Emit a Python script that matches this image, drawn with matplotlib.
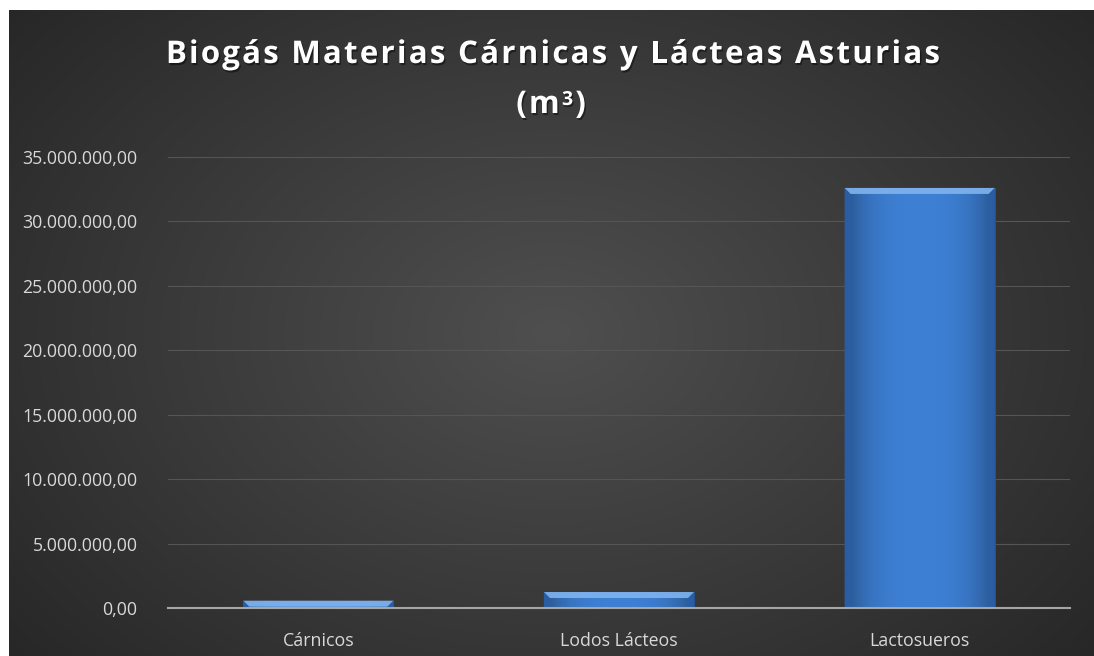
import numpy as np
import matplotlib
matplotlib.use("Agg")
import matplotlib.pyplot as plt
import matplotlib.patheffects as pe
from matplotlib.ticker import FuncFormatter, MultipleLocator

categories = ["Cárnicos", "Lodos Lácteos", "Lactosueros"]
biogas_m3 = [570000.0, 1240000.0, 32600000.0]
title_line1 = "Biogás Materias Cárnicas y Lácteas Asturias"
title_line2 = [("(m", 1.0, 0), ("3", 0.62, 8), (")", 1.0, 0)]

W, H, DPI = 1094, 656, 100
fig = plt.figure(figsize=(W / DPI, H / DPI), dpi=DPI)
fig.patch.set_facecolor("white")

# Dark radial-gradient chart area
bg_left, bg_top = 9 / W, 10 / H
bg = fig.add_axes([bg_left, 0, 1 - bg_left, 1 - bg_top], zorder=0)
yy, xx = np.mgrid[0:1:400j, 0:1:600j]
r = np.sqrt(((xx - 0.5) / 0.75) ** 2 + ((yy - 0.5) / 0.9) ** 2)
shade = np.clip(0.31 - 0.18 * r, 0.13, 0.31)
bg.imshow(np.dstack([shade] * 3), aspect="auto", extent=[0, 1, 0, 1],
          interpolation="bicubic")
bg.set_axis_off()

ax = fig.add_axes([168 / W, 48 / H, 902 / W, 451 / H], zorder=1)
ax.patch.set_alpha(0)

x = np.arange(len(categories))
bars = ax.bar(x, biogas_m3, width=0.5, color="#3b7dd0", zorder=3)

ax.set_xlim(-0.5, len(categories) - 0.5)
ax.set_ylim(0, 35000000)
ax.yaxis.set_major_locator(MultipleLocator(5000000))


def es_fmt(v, _pos):
    s = f"{v:,.2f}"
    return s.replace(",", "X").replace(".", ",").replace("X", ".")


ax.yaxis.set_major_formatter(FuncFormatter(es_fmt))
ax.set_xticks(x)
ax.set_xticklabels(categories)

# Bevel shading on each bar
grad = np.linspace(0, 1, 200)
hprof = 1 - 0.35 * np.abs(grad - 0.5) ** 3 * 8
px_to_data = 35000000 / 451
for b in bars:
    x0, y0 = b.get_x(), b.get_y()
    w, h = b.get_width(), b.get_height()
    base = np.array([0.24, 0.50, 0.83])
    img = np.stack([base[None, :] * hprof[:, None]] * 2)
    im = ax.imshow(img, extent=[x0, x0 + w, y0, y0 + h], aspect="auto",
                   zorder=4, interpolation="bilinear")
    im.set_clip_path(b)
    bev = 6 * px_to_data
    dx = w * 6 / 151
    top = plt.Polygon([[x0, y0 + h], [x0 + w, y0 + h],
                       [x0 + w - dx, y0 + h - bev], [x0 + dx, y0 + h - bev]],
                      closed=True, facecolor="#80b4ee", edgecolor="none",
                      alpha=0.9, zorder=5)
    ax.add_patch(top)
    for xs in ([x0, x0 + dx], [x0 + w, x0 + w - dx]):
        side = plt.Polygon([[xs[0], y0 + h], [xs[1], y0 + h - bev],
                            [xs[1], y0], [xs[0], y0]], closed=True,
                           facecolor="#2a5fa8", edgecolor="none", alpha=0.8,
                           zorder=5)
        ax.add_patch(side)

ax.set_xlim(-0.5, len(categories) - 0.5)
ax.set_ylim(0, 35000000)

ax.yaxis.grid(True, color="#555555", linewidth=0.8, zorder=1)
ax.set_axisbelow(True)
for s in ["top", "right", "left"]:
    ax.spines[s].set_visible(False)
ax.spines["bottom"].set_color("#a6a6a6")
ax.spines["bottom"].set_linewidth(1.5)
ax.spines["bottom"].set_zorder(6)
ax.tick_params(axis="both", length=0, colors="#d9d9d9", labelsize=12.8)
ax.tick_params(axis="y", pad=22)
ax.tick_params(axis="x", pad=17)
for lab in ax.get_xticklabels() + ax.get_yticklabels():
    lab.set_fontfamily("Open Sans")

# Letter-spaced title, drawn character by character
fig.canvas.draw()
renderer = fig.canvas.get_renderer()
TITLE_SIZE = 22.5
shadow = [pe.withSimplePatchShadow(offset=(1, -1.5), shadow_rgbFace="black",
                                   alpha=0.45)]


def title_kw(scale):
    return dict(color="white", fontsize=TITLE_SIZE * scale, fontweight="bold",
                family="Open Sans", va="baseline", ha="left",
                path_effects=shadow)


def char_width(ch, scale):
    if ch == " ":
        t = fig.text(0, 0, "a a", **title_kw(scale))
        t2 = fig.text(0, 0, "aa", **title_kw(scale))
        w = (t.get_window_extent(renderer).width
             - t2.get_window_extent(renderer).width)
        t.remove()
        t2.remove()
        return w
    t = fig.text(0, 0, ch, **title_kw(scale))
    w = t.get_window_extent(renderer).width
    t.remove()
    return w


def draw_spaced(segments, centre_x, base_y, spacing_px):
    items = []
    for text, scale, rise in segments:
        for ch in text:
            items.append((ch, scale, rise, char_width(ch, scale)))
    total = sum(it[3] for it in items) + spacing_px * (len(items) - 1)
    cx = centre_x - total / 2
    for ch, scale, rise, wch in items:
        if ch != " ":
            fig.text(cx / W, 1 - (base_y - rise) / H, ch, **title_kw(scale))
        cx += wch + spacing_px


draw_spaced([(title_line1, 1.0, 0)], 553, 63, 2.2)
draw_spaced(title_line2, 551, 113, 2.2)

fig.savefig("out.png", dpi=DPI, facecolor=fig.get_facecolor())
